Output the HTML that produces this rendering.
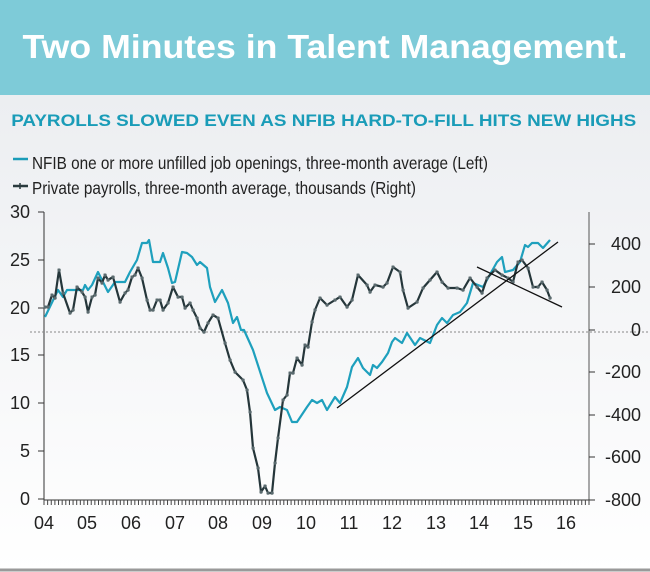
<!DOCTYPE html>
<html><head><meta charset="utf-8"><style>
body{margin:0;width:650px;height:572px;overflow:hidden;font-family:"Liberation Sans",sans-serif;background:#fff;}
</style></head><body>
<svg width="650" height="572" viewBox="0 0 650 572" xmlns="http://www.w3.org/2000/svg" style="position:absolute;left:0;top:0">
<defs><linearGradient id="bg" x1="0" y1="0" x2="0" y2="1"><stop offset="0" stop-color="#eceef1"/><stop offset="1" stop-color="#ffffff"/></linearGradient>
<marker id="dot" viewBox="0 0 6 6" refX="3" refY="3" markerWidth="3.5" markerHeight="3.5" markerUnits="userSpaceOnUse"><circle cx="3" cy="3" r="3" fill="#5a6a6e"/></marker></defs>
<rect x="0" y="95" width="650" height="477" fill="url(#bg)"/>
<rect x="0" y="0" width="650" height="95" fill="#7ecbd8"/>
<text x="325" y="58" fill="#fff" font-size="33" font-weight="bold" text-anchor="middle" textLength="605" lengthAdjust="spacingAndGlyphs">Two Minutes in Talent Management.</text>
<text x="9" y="126" fill="#1a9cb8" font-size="17" font-weight="bold" textLength="500" lengthAdjust="spacingAndGlyphs" transform="scale(1.25,1)" >PAYROLLS SLOWED EVEN AS NFIB HARD-TO-FILL HITS NEW HIGHS</text>
<line x1="13" y1="159" x2="28" y2="159" stroke="#1a9cb8" stroke-width="2.5"/>
<text x="32" y="169" fill="#222" font-size="17.5" textLength="456" lengthAdjust="spacingAndGlyphs">NFIB one or more unfilled job openings, three-month average (Left)</text>
<line x1="13" y1="186" x2="28" y2="186" stroke="#2a3a3e" stroke-width="2.5"/>
<line x1="20" y1="183" x2="20" y2="189" stroke="#2a3a3e" stroke-width="1.5"/>
<text x="32" y="194" fill="#222" font-size="17.5" textLength="384" lengthAdjust="spacingAndGlyphs">Private payrolls, three-month average, thousands (Right)</text>
<line x1="44" y1="212" x2="44" y2="500" stroke="#333" stroke-width="1"/>
<line x1="589" y1="212" x2="589" y2="500" stroke="#555" stroke-width="1"/>
<line x1="44" y1="500" x2="589" y2="500" stroke="#333" stroke-width="1"/>
<g stroke="#333" stroke-width="1">
<line x1="38" y1="212" x2="44" y2="212"/><line x1="38" y1="260" x2="44" y2="260"/><line x1="38" y1="308" x2="44" y2="308"/><line x1="38" y1="355" x2="44" y2="355"/><line x1="38" y1="403" x2="44" y2="403"/><line x1="38" y1="451" x2="44" y2="451"/><line x1="38" y1="499" x2="44" y2="499"/>
<line x1="589" y1="244" x2="595" y2="244"/><line x1="589" y1="287" x2="595" y2="287"/><line x1="589" y1="330" x2="595" y2="330"/><line x1="589" y1="372" x2="595" y2="372"/><line x1="589" y1="415" x2="595" y2="415"/><line x1="589" y1="457" x2="595" y2="457"/><line x1="589" y1="500" x2="595" y2="500"/>
</g>
<g stroke="#444" stroke-width="1" id="ticks"></g>
<line x1="30" y1="332" x2="650" y2="332" stroke="#888" stroke-width="1" stroke-dasharray="2,2"/>
<g font-size="18" fill="#222" text-anchor="end">
<text x="30" y="218">30</text><text x="30" y="266">25</text><text x="30" y="314">20</text><text x="30" y="361">15</text><text x="30" y="409">10</text><text x="30" y="457">5</text><text x="30" y="505">0</text>
</g>
<g font-size="18" fill="#222" text-anchor="end">
<text x="641" y="250">400</text><text x="641" y="293">200</text><text x="641" y="336">0</text><text x="641" y="378">-200</text><text x="641" y="421">-400</text><text x="641" y="463">-600</text><text x="641" y="506">-800</text>
</g>
<g font-size="18" fill="#222" text-anchor="middle">
<text x="44" y="529">04</text><text x="87" y="529">05</text><text x="131" y="529">06</text><text x="175" y="529">07</text><text x="218" y="529">08</text><text x="262" y="529">09</text><text x="306" y="529">10</text><text x="349" y="529">11</text><text x="392" y="529">12</text><text x="436" y="529">13</text><text x="479" y="529">14</text><text x="523" y="529">15</text><text x="566" y="529">16</text>
</g>
<polyline fill="none" stroke="#1ea0bd" stroke-width="2.2" stroke-linejoin="round" points="45,317 58,290 63,297 67,290 83,290 85,285 88,290 92,285 98,272 108,292 115,282 125,282 130,272 137,260 142,243 147,243 149,240 153,262 160,262 163,253 168,268 172,283 175,282 182,252 187,253 192,257 197,265 200,262 207,268 210,287 215,302 222,290 228,303 233,323 237,317 241,330 244,330 253,350 267,393 275,410 280,407 287,410 292,422 297,422 307,407 312,400 317,403 322,400 327,410 335,397 340,403 347,387 352,367 358,358 363,368 370,375 373,365 377,368 382,362 388,353 392,342 395,338 402,343 407,333 415,345 420,338 430,343 437,325 442,318 447,323 453,315 460,312 467,303 473,283 483,287 497,262 502,257 505,272 513,270 520,262 525,245 528,247 532,243 538,243 543,248 550,240"/>
<polyline fill="none" stroke="#25363a" stroke-width="2.2" stroke-linejoin="round" marker-start="url(#dot)" marker-mid="url(#dot)" marker-end="url(#dot)" points="45,307 48,307 52,295 55,298 59,270 63,293 70,313 73,310 77,287 82,292 85,297 88,312 92,297 95,295 98,278 102,283 105,275 108,280 113,277 120,302 125,293 128,290 132,277 135,275 138,268 142,278 147,300 150,310 153,310 157,300 160,300 163,310 168,303 173,287 178,297 182,297 185,308 190,303 193,310 197,318 200,328 204,332 208,323 213,315 218,318 225,343 230,360 235,372 243,380 247,390 250,412 253,448 258,468 261,492 265,486 268,493 272,493 275,463 278,438 283,400 287,395 290,373 293,373 297,358 302,365 305,345 308,347 312,322 315,310 320,298 327,305 335,300 340,297 347,307 352,300 358,275 367,285 370,292 375,285 383,287 387,283 393,267 400,272 403,290 408,308 417,302 423,288 430,280 437,272 442,282 448,288 457,288 463,290 470,278 477,287 482,293 487,278 495,270 502,275 508,278 513,282 518,262 522,260 528,268 533,287 538,287 542,282 547,290 550,298"/>
<line x1="337" y1="408" x2="558" y2="242" stroke="#111" stroke-width="1.3"/>
<line x1="477" y1="267" x2="562" y2="307" stroke="#111" stroke-width="1.3"/>
<line x1="0" y1="570" x2="650" y2="570" stroke="#9a9a9a" stroke-width="3"/>
</svg>
<script>
var g=document.getElementById('ticks');var s='';
for(var i=0;i<=150;i++){var x=44+i*545/150;s+='<line x1="'+x+'" y1="500" x2="'+x+'" y2="505"/>';}
g.innerHTML=s;
</script>
</body></html>
